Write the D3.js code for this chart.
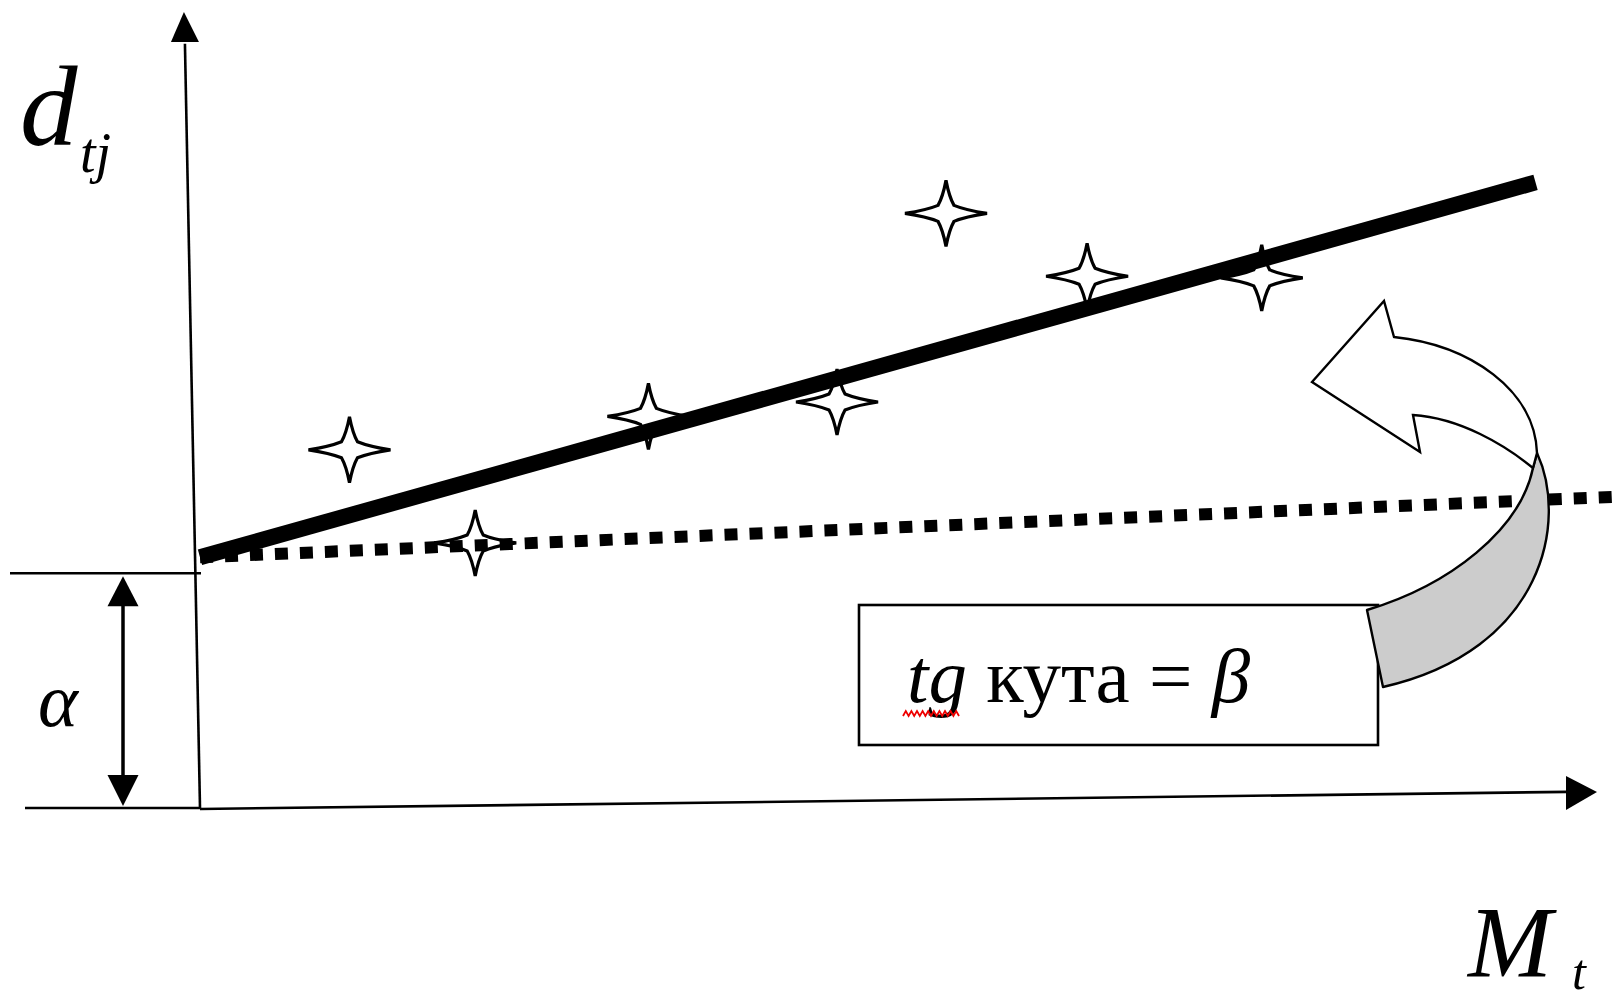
<!DOCTYPE html>
<html>
<head>
<meta charset="utf-8">
<script src="https://cdn.jsdelivr.net/npm/d3@7"></script>
<style>
  html, body { margin: 0; padding: 0; background: #fff; }
  svg { display: block; }
  text { font-family: "Liberation Serif", "Times New Roman", serif; fill: #000; }
</style>
</head>
<body>
<svg id="chart" width="1615" height="1002"></svg>
<script>
// observations (stars)
var starX = [10.7, 19.7, 32.1, 45.6, 53.4, 63.5, 76.0];
var starY = [45.0, 33.3, 49.2, 51.0, 74.7, 66.8, 66.6];

// fitted line and the level line through the intercept
var fitX = [0, 95.6];
var fitY = [31.5, 78.6];
var levelX = [0, 101.3];
var levelY = [31.5, 39.1];

// alpha span on the left
var alphaSpan = [0, 29.5];

// labels
var yName = "d", ySub = "tj";
var xName = "M", xSub = "t";
var alphaName = "\u03b1";
var boxParts = [["tg", "italic"], [" кута = ", "normal"], ["\u03b2", "italic"]];

var svg = d3.select("#chart");

var x = d3.scaleLinear().domain([0, 100]).range([200, 1597]);
var y = d3.scaleLinear().domain([0, 100]).range([808, 12]);

var line = d3.line().x(function(d){ return x(d[0]); }).y(function(d){ return y(d[1]); });

// ---- axes (hand drawn, slightly tilted) ----
var yTop = [-1.15, 100], xEnd = [100, 1.9];
var g = svg.append("g");

// y axis
g.append("line")
	.attr("x1", x(0)).attr("y1", y(0))
	.attr("x2", x(yTop[0]) + 1).attr("y2", y(96))
	.attr("stroke", "#000").attr("stroke-width", 2.6);
g.append("path")
	.attr("d", "M" + x(yTop[0]) + "," + y(yTop[1]) + " L" + (x(yTop[0]) + 15) + "," + (y(yTop[1]) + 30) + " L" + (x(yTop[0]) - 13) + "," + (y(yTop[1]) + 30) + "Z")
	.attr("fill", "#000");

// x axis
g.append("line")
	.attr("x1", x(0)).attr("y1", y(0) + 1)
	.attr("x2", x(xEnd[0]) - 30).attr("y2", y(xEnd[1]) - 1)
	.attr("stroke", "#000").attr("stroke-width", 2.6);
g.append("path")
	.attr("d", "M" + x(xEnd[0]) + "," + (y(xEnd[1]) - 1) + " L" + (x(xEnd[0]) - 31) + "," + (y(xEnd[1]) - 17) + " L" + (x(xEnd[0]) - 31) + "," + (y(xEnd[1]) + 17) + "Z")
	.attr("fill", "#000");

// alpha guides
g.append("line")
	.attr("x1", 10).attr("x2", x(0) + 1)
	.attr("y1", y(alphaSpan[1])).attr("y2", y(alphaSpan[1]))
	.attr("stroke", "#000").attr("stroke-width", 2.6);
g.append("line")
	.attr("x1", 25).attr("x2", x(0))
	.attr("y1", y(alphaSpan[0])).attr("y2", y(alphaSpan[0]))
	.attr("stroke", "#000").attr("stroke-width", 2.6);

var ax = 123, aTop = y(alphaSpan[1]) + 3, aBot = y(alphaSpan[0]) - 2;
g.append("line")
	.attr("x1", ax).attr("x2", ax).attr("y1", aTop + 20).attr("y2", aBot - 20)
	.attr("stroke", "#000").attr("stroke-width", 3.5);
g.append("path")
	.attr("d", "M" + ax + "," + aTop + " L" + (ax + 15.5) + "," + (aTop + 30) + " L" + (ax - 15.5) + "," + (aTop + 30) + "Z")
	.attr("fill", "#000");
g.append("path")
	.attr("d", "M" + ax + "," + aBot + " L" + (ax + 15.5) + "," + (aBot - 31) + " L" + (ax - 15.5) + "," + (aBot - 31) + "Z")
	.attr("fill", "#000");

// ---- stars (4-point, slightly concave sides) ----
var R = 41, Rv = 33, r = 8;
function starShape() {
	var tips = [[R, 0], [0, -Rv], [-R, 0], [0, Rv]];
	var inner = [[r, -r], [-r, -r], [-r, r], [r, r]];
	var p = "M" + tips[0][0] + "," + tips[0][1];
	for (var i = 0; i < 4; i++) {
		var a = tips[i], b = tips[(i + 1) % 4], c = inner[i];
		// pull the control points slightly toward the centre axes
		var c1 = [(a[0] + c[0]) / 2 * 0.8, (a[1] + c[1]) / 2 * 0.8];
		var c2 = [(b[0] + c[0]) / 2 * 0.8, (b[1] + c[1]) / 2 * 0.8];
		p += " Q" + c1[0] + "," + c1[1] + " " + c[0] + "," + c[1];
		p += " Q" + c2[0] + "," + c2[1] + " " + b[0] + "," + b[1];
	}
	return p + "Z";
}
var stars = starX.map(function(v, i){ return [v, starY[i]]; });
svg.selectAll(".star")
	.data(stars)
	.enter().append("path")
	.attr("class", "star")
	.attr("transform", function(d){ return "translate(" + x(d[0]) + "," + y(d[1]) + ")"; })
	.attr("d", starShape())
	.attr("fill", "#fff")
	.attr("stroke", "#000")
	.attr("stroke-width", 3.2)
	.attr("stroke-linejoin", "miter");

// ---- dotted level line ----
svg.append("path")
	.attr("d", line(levelX.map(function(v, i){ return [v, levelY[i]]; })))
	.attr("fill", "none")
	.attr("stroke", "#000")
	.attr("stroke-width", 12)
	.attr("stroke-dasharray", "13,12");

// ---- thick fitted line ----
svg.append("path")
	.attr("d", line(fitX.map(function(v, i){ return [v, fitY[i]]; })))
	.attr("fill", "none")
	.attr("stroke", "#000")
	.attr("stroke-width", 16);

// ---- text box ----
var box = { x: 859, y: 605, w: 519, h: 140 };
svg.append("rect")
	.attr("x", box.x).attr("y", box.y).attr("width", box.w).attr("height", box.h)
	.attr("fill", "#fff").attr("stroke", "#000").attr("stroke-width", 2.6);
var bt = svg.append("text")
	.attr("x", 907).attr("y", 702)
	.attr("font-size", 77)
	.attr("xml:space", "preserve")
	.style("white-space", "pre");
bt.selectAll("tspan").data(boxParts).enter().append("tspan")
	.attr("font-style", function(d){ return d[1]; })
	.text(function(d){ return d[0]; });

// red spell-check squiggle under "tg"
var sq = [];
for (var k = 0; k <= 20; k++) { sq.push([903 + k * 2.8, k % 2 ? 711 : 716]); }
svg.append("path")
	.attr("d", d3.line()(sq))
	.attr("fill", "none").attr("stroke", "#e00").attr("stroke-width", 1.8);

// ---- curved arrow (annotation) ----
var arrowFront = "M1312,382 L1384,301 L1394,337 C1470,345 1535,390 1537,453 L1533,468 C1505,445 1460,418 1413,415 L1420,452 Z";
var arrowBack = "M1537,453 C1568,520 1545,650 1383,687 L1367,610 C1450,585 1520,530 1533,468 Z";
svg.append("path").attr("d", arrowBack)
	.attr("fill", "#cccccc").attr("stroke", "#000").attr("stroke-width", 2.4).attr("stroke-linejoin", "round");
svg.append("path").attr("d", arrowFront)
	.attr("fill", "#fff").attr("stroke", "#000").attr("stroke-width", 2.4).attr("stroke-linejoin", "miter");

// ---- axis labels ----
svg.append("text").attr("x", 20).attr("y", 145)
	.attr("font-size", 115).attr("font-style", "italic").text(yName);
svg.append("text").attr("x", 80).attr("y", 172)
	.attr("font-size", 56).attr("font-style", "italic").text(ySub);
svg.append("text").attr("x", 1468).attr("y", 977)
	.attr("font-size", 101).attr("font-style", "italic").text(xName);
svg.append("text").attr("x", 1572).attr("y", 989)
	.attr("font-size", 50).attr("font-style", "italic").text(xSub);
svg.append("text").attr("x", 38).attr("y", 726)
	.attr("font-size", 76).attr("font-style", "italic").text(alphaName);
</script>
</body>
</html>
